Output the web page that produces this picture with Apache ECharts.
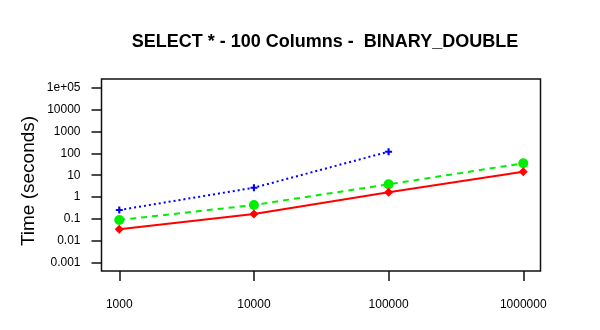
<!DOCTYPE html>
<html>
<head>
<meta charset="utf-8">
<script src="https://cdn.jsdelivr.net/npm/echarts@6/dist/echarts.min.js"></script>
<style>html,body{margin:0;padding:0;background:#fff;}#c{width:600px;height:330px;}</style>
</head>
<body>
<div id="c"></div>
<script>
var titleText = 'SELECT * - 100 Columns -  BINARY_DOUBLE';
var yAxisTitle = 'Time (seconds)';
var rows = [1000, 10000, 100000, 1000000];
var xTickLabels = ['1000', '10000', '100000', '1000000'];
var yTickValues = [0.001, 0.01, 0.1, 1, 10, 100, 1000, 10000, 100000];
var yTickLabels = ['0.001', '0.01', '0.1', '1', '10', '100', '1000', '10000', '1e+05'];
var blueValues = [0.256, 2.68, 119];
var greenValues = [0.0895, 0.434, 3.84, 35];
var redValues = [0.0336, 0.168, 1.65, 14.5];

function pairs(vals) {
  return vals.map(function (v, i) { return [rows[i], v]; });
}
function yLabel(v) {
  for (var i = 0; i < yTickValues.length; i++) {
    if (Math.abs(Math.log10(v) - Math.log10(yTickValues[i])) < 1e-6) return yTickLabels[i];
  }
  return '';
}
function xLabel(v) {
  for (var i = 0; i < rows.length; i++) {
    if (Math.abs(Math.log10(v) - Math.log10(rows[i])) < 1e-6) return xTickLabels[i];
  }
  return '';
}
var plusPath = 'path://M3.5,0H6.5V3.5H10V6.5H6.5V10H3.5V6.5H0V3.5H3.5Z';
var font = '"Liberation Sans", Arial, sans-serif';

var chart = echarts.init(document.getElementById('c'), null, {renderer: 'canvas'});
chart.setOption({
  animation: false,
  backgroundColor: '#fff',
  title: {
    text: titleText,
    left: 320, top: 28, textAlign: 'center',
    textStyle: {fontFamily: font, fontSize: 18, fontWeight: 'bold', color: '#000'}
  },
  graphic: [{
    type: 'text', x: 29, y: 181, rotation: Math.PI / 2,
    style: {text: yAxisTitle, fontFamily: font, fontSize: 19, fill: '#000', align: 'center', verticalAlign: 'middle'}
  }],
  grid: {left: 101.5, right: 59.5, top: 79, bottom: 59, show: true, borderColor: '#111', borderWidth: 1.5, backgroundColor: 'transparent'},
  xAxis: {
    type: 'log', logBase: 10,
    min: Math.pow(10, 2.868), max: Math.pow(10, 6.128),
    axisLine: {show: false},
    splitLine: {show: false},
    axisTick: {show: true, length: 10, inside: false, customValues: rows, lineStyle: {color: '#111', width: 1.5}},
    axisLabel: {customValues: rows, margin: 28, formatter: xLabel, fontFamily: font, fontSize: 12, color: '#000'}
  },
  yAxis: {
    type: 'log', logBase: 10,
    min: Math.pow(10, -3.379), max: Math.pow(10, 5.398),
    axisLine: {show: false},
    splitLine: {show: false},
    axisTick: {show: true, length: 10, inside: false, customValues: yTickValues, lineStyle: {color: '#111', width: 1.5}},
    axisLabel: {customValues: yTickValues, margin: 21, formatter: yLabel, fontFamily: font, fontSize: 12, color: '#000'}
  },
  series: [
    {
      type: 'line', data: pairs(blueValues), symbol: plusPath, symbolSize: 7,
      itemStyle: {color: '#0000ff'},
      lineStyle: {color: '#0000ff', width: 2, type: [2, 3]}
    },
    {
      type: 'line', data: pairs(greenValues), symbol: 'circle', symbolSize: 10,
      itemStyle: {color: '#00ee00'},
      lineStyle: {color: '#00ee00', width: 2, type: [6, 5]}
    },
    {
      type: 'line', data: pairs(redValues), symbol: 'diamond', symbolSize: 9,
      itemStyle: {color: '#ff0000'},
      lineStyle: {color: '#ff0000', width: 2, type: 'solid'}
    }
  ]
});
</script>
</body>
</html>
